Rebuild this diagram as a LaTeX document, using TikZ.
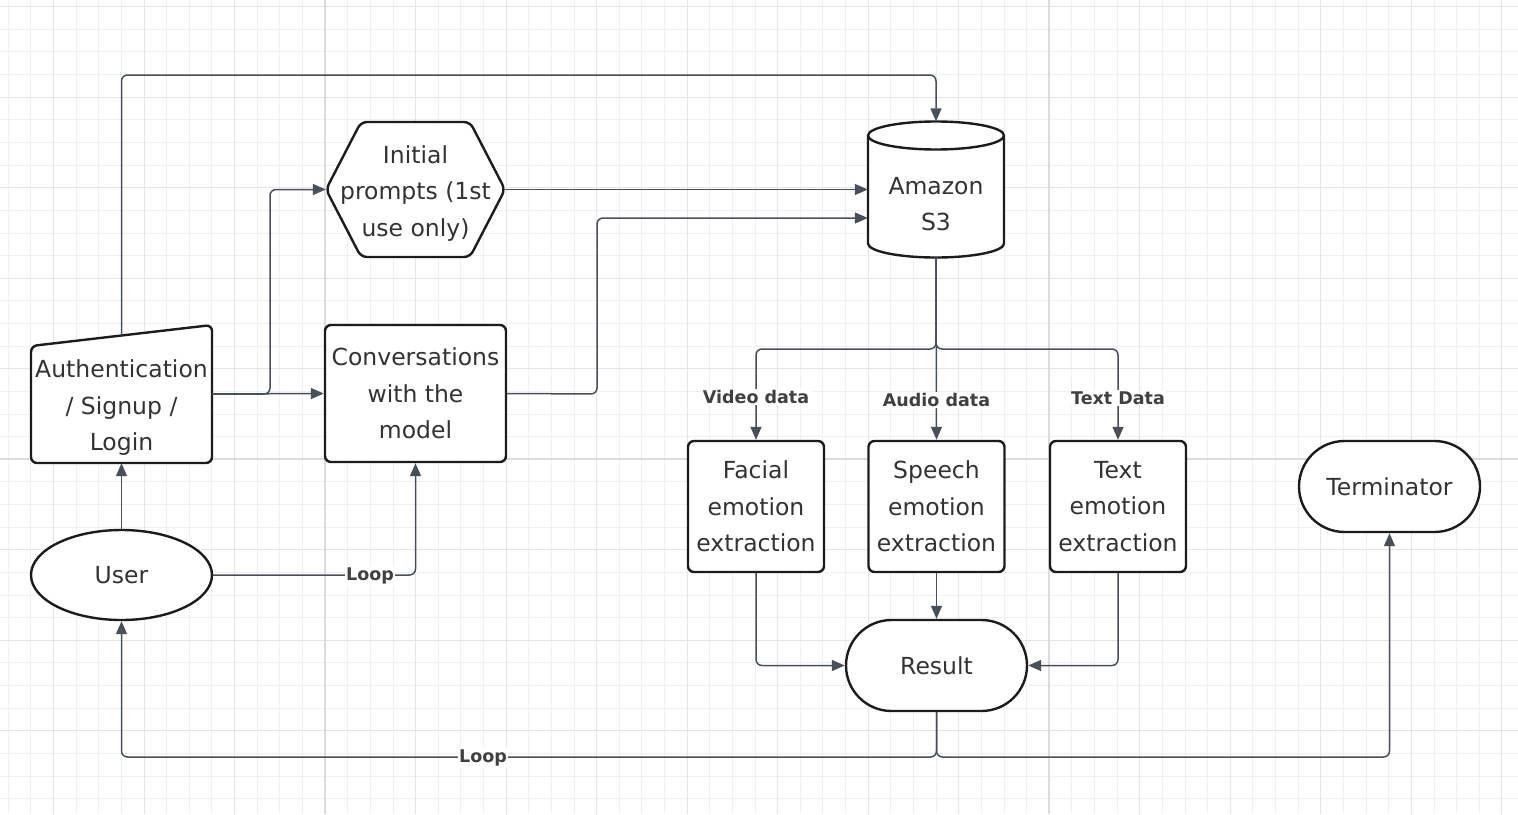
\documentclass[tikz,border=0pt]{standalone}
\usepackage{fontspec}
\setmainfont{DejaVu Sans}
\usetikzlibrary{arrows.meta,shapes.misc,shapes.geometric}
\definecolor{shapecol}{HTML}{1C1C1C}
\definecolor{textcol}{HTML}{333333}
\definecolor{conncol}{HTML}{4A5059}
\definecolor{gridminor}{HTML}{F0F0F0}
\definecolor{gridmed}{HTML}{E5E5E5}
\definecolor{gridmajor}{HTML}{DCDCDC}
\definecolor{labelcol}{HTML}{404040}
\newcommand\diagfont{\fontsize{23.5}{36.5}\selectfont}
\newcommand\labfont{\fontsize{17.5}{20}\selectfont\bfseries}
\begin{document}
\begin{tikzpicture}[x=1pt,y=1pt,
  shapeline/.style={draw=shapecol,line width=2.4pt,fill=white},
  txt/.style={inner sep=0pt,align=center,font=\diagfont,text=textcol},
  box/.style={shapeline,txt,rectangle,rounded corners=6pt},
  stadium/.style={shapeline,txt,rounded rectangle,minimum width=181pt,minimum height=91pt},
  ghost/.style={txt,rectangle},
  conn/.style={draw=conncol,line width=1.5pt,rounded corners=6pt,-{Triangle[length=13pt,width=11pt]}},
  lab/.style={fill=white,inner sep=1.5pt,font=\labfont,text=labelcol}
]
\useasboundingbox (0,0) rectangle (1518,-814);
\fill[white] (0,0) rectangle (1518,-814);
% grid
\foreach \i in {0,...,66}{\draw[gridminor,line width=1pt] ({8.3+22.63*\i},0) -- ({8.3+22.63*\i},-814);}
\foreach \j in {0,...,35}{\draw[gridminor,line width=1pt] (0,{-6.7-22.63*\j}) -- (1518,{-6.7-22.63*\j});}
\foreach \i in {2,6,...,66}{\draw[gridmed,line width=1pt] ({8.3+22.63*\i},0) -- ({8.3+22.63*\i},-814);}
\foreach \j in {0,4,...,32}{\draw[gridmed,line width=1pt] (0,{-6.7-22.63*\j}) -- (1518,{-6.7-22.63*\j});}
\foreach \i in {14,46}{\draw[gridmajor,line width=1.8pt] ({8.3+22.63*\i},0) -- ({8.3+22.63*\i},-814);}
\foreach \j in {20}{\draw[gridmajor,line width=1.8pt] (0,{-6.7-22.63*\j}) -- (1518,{-6.7-22.63*\j});}

% Authentication (manual input shape)
\node[ghost,minimum width=181pt,minimum height=138pt] (auth) at (121.5,-394) {};
\draw[shapeline,rounded corners=6pt] (31,-463) -- (31,-346) -- (212,-325) -- (212,-463) -- cycle;
\node[txt] (authtext) at (121.5,-408) {Authentication\\/ Signup /\\Login};
\coordinate (authtop) at (121.5,-335.5);

% Initial prompts hexagon
\node[ghost,minimum width=179pt,minimum height=135pt] (hex) at (415.5,-189.5) {};
\draw[shapeline,rounded corners=6pt] (326,-189.5) -- (361,-122) -- (470,-122) -- (505,-189.5) -- (470,-257) -- (361,-257) -- cycle;
\node[txt] at (415.5,-193.5) {Initial\\prompts (1st\\use only)};

% Amazon S3 cylinder
\node[ghost,minimum width=136pt,minimum height=136pt] (s3) at (936,-189.5) {};
\draw[shapeline] (868,-135.5) -- (868,-243.5) arc[start angle=180,end angle=360,x radius=68,y radius=14] -- (1004,-135.5) arc[start angle=0,end angle=180,x radius=68,y radius=14] -- cycle;
\draw[draw=shapecol,line width=2.4pt] (868,-135.5) arc[start angle=180,end angle=360,x radius=68,y radius=14];
\node[txt] at (936,-204) {Amazon\\S3};

% Boxes
\node[box,minimum width=181pt,minimum height=137pt] (conv) at (415.5,-393.5) {Conversations\\with the\\model};
\node[box,minimum width=136pt,minimum height=131pt] (facial) at (756,-506.5) {Facial\\emotion\\extraction};
\node[box,minimum width=136pt,minimum height=131pt] (speech) at (936.5,-506.5) {Speech\\emotion\\extraction};
\node[box,minimum width=136pt,minimum height=131pt] (textbox) at (1118,-506.5) {Text\\emotion\\extraction};
\node[stadium] (term) at (1389.5,-486.5) {Terminator};
\node[stadium] (result) at (936.5,-665.5) {Result};
\node[shapeline,txt,ellipse,minimum width=181pt,minimum height=90pt] (user) at (121.5,-575) {User};

% Connectors
\draw[conn] (authtop) -- (121.5,-75) -| (s3.north);
\draw[conn] (auth.east) -- (270,-394) |- (hex.west);
\draw[conn] (auth.east) -- (conv.west);
\draw[conn] (hex.east) -- (s3.west);
\draw[conn] (conv.east) -- (597,-394) |- (s3.west |- 0,-218);
\draw[conn] (s3.south) -- (936,-349) -| (facial.north);
\draw[conn] (s3.south) -- (speech.north);
\draw[conn] (s3.south) -- (936,-349) -| (textbox.north);
\node[lab] (vlab) at (756,-397) {Video data};
\node[lab] (alab) at (936.5,-400) {Audio data};
\node[lab] (tlab) at (1118,-398) {Text Data};
\draw[conn] (facial.south) |- (result.west);
\draw[conn] (speech.south) -- (result.north);
\draw[conn] (textbox.south) |- (result.east);
\draw[conn] (result.south) -- (936.5,-757) -| (user.south);
\draw[conn] (result.south) -- (936.5,-757) -| (term.south);
\draw[conn] (user.east) -| (conv.south);
\draw[conn] (user.north) -- (auth.south);
\node[lab] (loop1) at (370,-576) {Loop};
\node[lab] (loop2) at (483,-758) {Loop};
\end{tikzpicture}
\end{document}
